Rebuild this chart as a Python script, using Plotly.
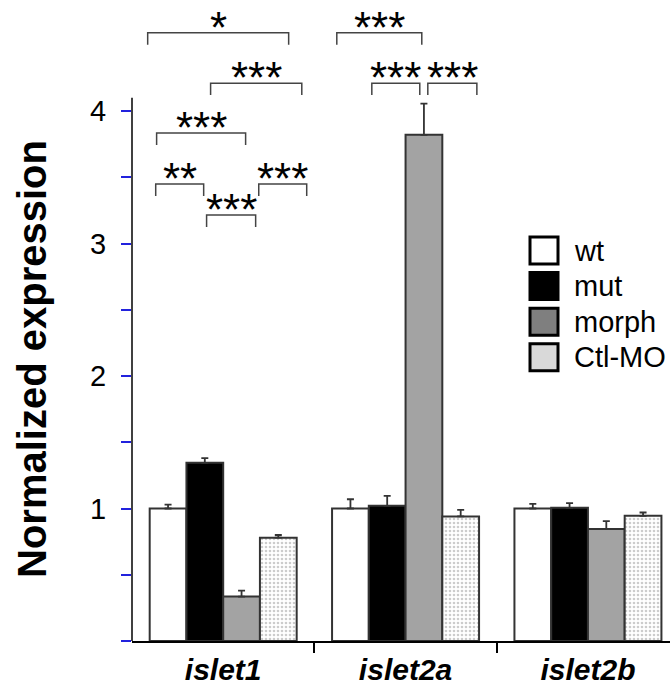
import plotly.graph_objects as go

genes = ["islet1", "islet2a", "islet2b"]
series_names = ["wt", "mut", "morph", "Ctl-MO"]
wt = [1.0, 1.0, 1.0]
wt_err = [0.03, 0.07, 0.035]
mut = [1.345, 1.02, 1.005]
mut_err = [0.035, 0.075, 0.035]
morph = [0.335, 3.82, 0.845]
morph_err = [0.045, 0.235, 0.06]
ctl = [0.78, 0.94, 0.945]
ctl_err = [0.02, 0.05, 0.025]

# significance brackets: (x start, x end, bracket height, label)
brackets = [
    (-0.414, 0.359, 4.59, "*"),
    (-0.069, 0.431, 4.21, "***"),
    (-0.365, 0.123, 3.834, "***"),
    (-0.370, -0.107, 3.449, "**"),
    (0.195, 0.458, 3.449, "***"),
    (-0.091, 0.178, 3.215, "***"),
    (0.623, 1.089, 4.59, "***"),
    (0.815, 1.078, 4.21, "***"),
    (1.122, 1.391, 4.21, "***"),
]

FONT = "Liberation Sans, Arial, sans-serif"
EDGE = "#333333"
x = list(range(len(genes)))

fig = go.Figure()
styles = [
    dict(color="white"),
    dict(color="black"),
    dict(color="#a3a3a3"),
    dict(color="white", pattern=dict(shape=".", fgcolor="#9a9a9a", bgcolor="white", size=4, solidity=0.35)),
]
vals = [wt, mut, morph, ctl]
errs = [wt_err, mut_err, morph_err, ctl_err]
for name, v, e, st in zip(series_names, vals, errs, styles):
    fig.add_trace(go.Bar(
        x=x, y=v, name=name,
        marker=dict(line=dict(color=EDGE, width=2), **st),
        error_y=dict(type="data", array=e, arrayminus=[0] * len(e), symmetric=False,
                     color=EDGE, thickness=1.8, width=3.5),
        showlegend=False,
    ))

# y axis line (only up to 4.1)
fig.add_shape(type="line", xref="paper", yref="y", x0=0, x1=0, y0=0, y1=4.1,
              line=dict(color="black", width=1.5))

leg = 0.09
for x0, x1, yl, lab in brackets:
    fig.add_shape(type="path", xref="x", yref="y",
                  path=f"M {x0} {yl-leg} L {x0} {yl} L {x1} {yl} L {x1} {yl-leg}",
                  line=dict(color="#444444", width=1.5))
    fig.add_annotation(x=(x0 + x1) / 2, y=yl, xref="x", yref="y", text=lab,
                       showarrow=False, yanchor="bottom", yshift=-21,
                       font=dict(family=FONT, size=44, color="black"))

# legend (manual)
leg_colors = ["white", "black", "#7f7f7f", "#d9d9d9"]
W, H = 538.0, 636.0
for i, (name, c) in enumerate(zip(series_names, leg_colors)):
    top = 237 + i * 35.6
    fig.add_shape(type="rect", xref="paper", yref="paper",
                  x0=(530 - 132) / W, x1=(558 - 132) / W,
                  y0=(641 - top - 27) / H, y1=(641 - top) / H,
                  fillcolor=c, line=dict(color="black", width=3))
    fig.add_annotation(xref="paper", yref="paper", x=(572 - 132) / W, y=(641 - top - 13.5) / H,
                       text=name, showarrow=False, xanchor="left", yanchor="middle",
                       font=dict(family=FONT, size=29, color="black"))

# y title
fig.add_annotation(xref="paper", yref="paper", x=(32 - 132) / W, y=(641 - 359) / H,
                   text="<b>Normalized expression</b>", textangle=-90, showarrow=False,
                   xanchor="center", yanchor="middle",
                   font=dict(family=FONT, size=40, color="black"))

yt = [i * 0.5 for i in range(9)]
fig.update_layout(
    width=670, height=688,
    margin=dict(l=132, r=0, t=5, b=47),
    plot_bgcolor="white", paper_bgcolor="white",
    barmode="group", bargap=0.194, bargroupgap=0,
    showlegend=False,
    xaxis=dict(range=[-0.5, 2.45], tickvals=x,
               ticktext=[f"<b><i>{g}</i></b>" for g in genes],
               ticks="", showline=True, linecolor="black", linewidth=1.5,
               tickfont=dict(family=FONT, size=30, color="black"),
               ticklabelstandoff=1, automargin=False,
               minor=dict(tickvals=[0.5, 1.5], ticks="outside", ticklen=10, tickwidth=1.5, tickcolor="black"),
               showgrid=False, zeroline=False),
    yaxis=dict(range=[0, 4.8], tickvals=yt,
               ticktext=[str(int(v)) if v == int(v) and v > 0 else "" for v in yt],
               ticks="outside", ticklen=10, tickwidth=1.5, tickcolor="#2222dd",
               tickfont=dict(family=FONT, size=29, color="black"),
               ticklabelstandoff=9, automargin=False,
               showline=False, showgrid=False, zeroline=False),
)

fig.write_html("out.html", config={"displayModeBar": False},
               post_script="document.body.style.margin='0';document.body.style.overflow='hidden';")
